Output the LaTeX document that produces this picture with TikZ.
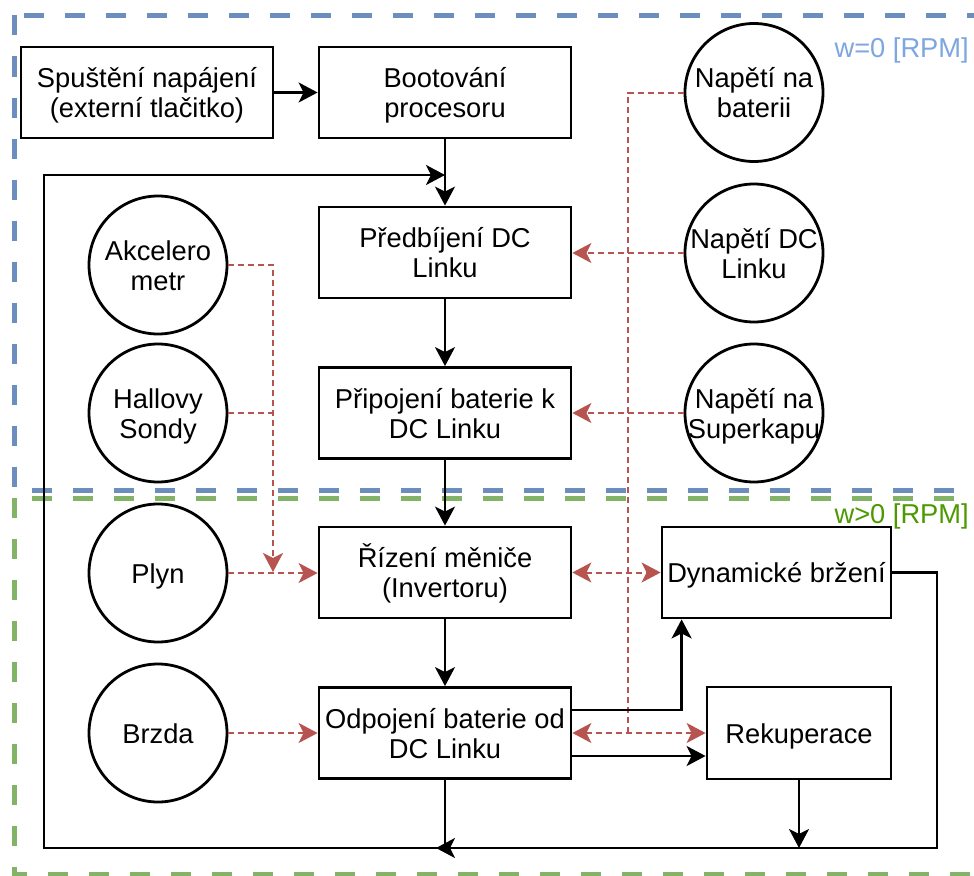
\documentclass[tikz,border=0pt]{standalone}
\usepackage{fontspec}
\setmainfont{Liberation Sans}
\usetikzlibrary{arrows.meta}
\definecolor{frameblue}{HTML}{6C8EBF}
\definecolor{framegreen}{HTML}{82B366}
\definecolor{labelblue}{HTML}{7EA6E0}
\definecolor{labelgreen}{HTML}{4D9900}
\definecolor{sigred}{HTML}{B85450}
% text lines placed on fixed baselines inside a shape
\newcommand\twolines[3]{%
  \node[txt] (#1-a) at ([yshift=4.75pt]#1.center) {#2};
  \node[txt] (#1-b) at ([yshift=-25pt]#1.center) {#3};}
\newcommand\oneline[2]{%
  \node[txt] (#1-a) at ([yshift=-10pt]#1.center) {#2};}
\begin{document}
\begin{tikzpicture}[x=1pt,y=-1pt,
  every node/.style={font=\fontsize{27.3}{30}\selectfont},
  txt/.style={anchor=base, inner sep=0pt},
  stepbox/.style={draw, line width=2.8pt, fill=white, inner sep=0pt,
    minimum width=252pt, minimum height=91pt},
  sensor/.style={circle, draw, line width=2.8pt, fill=white, inner sep=0pt,
    minimum size=138pt},
  tip/.tip={Stealth[length=19pt,width=20pt,inset=5pt]},
  redtip/.tip={Stealth[length=19pt,width=20pt,inset=5pt,sigred]},
  flow/.style={line width=2.5pt, -tip},
  sig/.style={draw=sigred, line width=2pt, dash pattern=on 6pt off 4pt},
  sigarrow/.style={sig, -redtip},
  sigboth/.style={sig, redtip-redtip},
  frame/.style={line width=5pt, dash pattern=on 20pt off 21pt}
]
\useasboundingbox (0,0) rectangle (974,875);
\fill[white] (0,0) rectangle (974,875);

% state regions
\begin{scope}
  \clip (0,0) rectangle (974,875);
  \draw[frame, frameblue] (14,15.5) rectangle (1010,490);
  \draw[frame, framegreen] (14,498) rectangle (1010,874);
\end{scope}
\node[txt, anchor=base east, text=labelblue] (lblzero) at (969,58) {w=0 [RPM]};
\node[txt, anchor=base east, text=labelgreen] (lblpos) at (969,523) {w>0 [RPM]};

% process steps
\node[stepbox] (start) at (147,92.5) {};
\node[stepbox] (boot) at (445,92.5) {};
\node[stepbox] (pre) at (445,252.5) {};
\node[stepbox] (conn) at (445,413) {};
\node[stepbox] (ctrl) at (445,572.5) {};
\node[stepbox] (disc) at (445,733) {};
\node[stepbox, minimum width=229pt] (dyn) at (776.5,572.5) {};
\node[stepbox, minimum width=184pt, minimum height=92pt] (rek) at (799,733) {};

% sensors
\node[sensor] (acc) at (158,265) {};
\node[sensor] (hall) at (158,413) {};
\node[sensor] (plyn) at (158,573) {};
\node[sensor] (brzda) at (158,733) {};
\node[sensor] (ubat) at (754,92.5) {};
\node[sensor] (udc) at (754,253) {};
\node[sensor] (usc) at (754,413) {};

% labels
\twolines{start}{Spuštění napájení}{(externí tlačitko)}
\twolines{boot}{Bootování}{procesoru}
\twolines{pre}{Předbíjení DC}{Linku}
\twolines{conn}{Připojení baterie k}{DC Linku}
\twolines{ctrl}{Řízení měniče}{(Invertoru)}
\twolines{disc}{Odpojení baterie od}{DC Linku}
\oneline{dyn}{Dynamické bržení}
\oneline{rek}{Rekuperace}
\twolines{acc}{Akcelero}{metr}
\twolines{hall}{Hallovy}{Sondy}
\oneline{plyn}{Plyn}
\oneline{brzda}{Brzda}
\twolines{ubat}{Napětí na}{baterii}
\twolines{udc}{Napětí DC}{Linku}
\twolines{usc}{Napětí na}{Superkapu}

% junction points
\coordinate (accj) at (273,572);
\coordinate (batj) at (628,733);
\coordinate (loopin) at (445,175);
\coordinate (bl) at (44,848);
\coordinate (dr) at (937,848);
\coordinate (bottomjoin) at (436,848);

% sensor signals
\draw[sigarrow] (acc.east) -| (accj);
\draw[sig] (hall.east) -- (hall.east -| accj);
\draw[sigarrow] (plyn.east) -- (plyn.east -| ctrl.west);
\draw[sigarrow] (brzda.east) -- (brzda.east -| disc.west);
\draw[sig] (ubat.west) -| (batj);
\draw[sigarrow] (udc.west) -- (udc.west -| pre.east);
\draw[sigarrow] (usc.west) -- (usc.west -| conn.east);
\draw[sigboth] (ctrl.east) -- (ctrl.east -| dyn.west);
\draw[sigboth] (disc.east) -- (disc.east -| rek.west);

% main flow
\draw[flow] (start) -- (boot);
\draw[flow] (boot) -- (pre);
\draw[flow] (pre) -- (conn);
\draw[flow] (conn) -- (ctrl);
\draw[flow] (ctrl) -- (disc);
\draw[flow] ([yshift=23pt]disc.east) -| ([xshift=21pt]dyn.south west);
\draw[flow] ([yshift=-23pt]disc.east) -- ([yshift=-23pt]rek.west);
\draw[flow] (rek.south) -- (rek.south |- bottomjoin);
\draw[flow] (dyn.east) -| (dr) -- (bottomjoin);
\draw[flow] (disc.south) |- (bl) |- (loopin);
\end{tikzpicture}
\end{document}
